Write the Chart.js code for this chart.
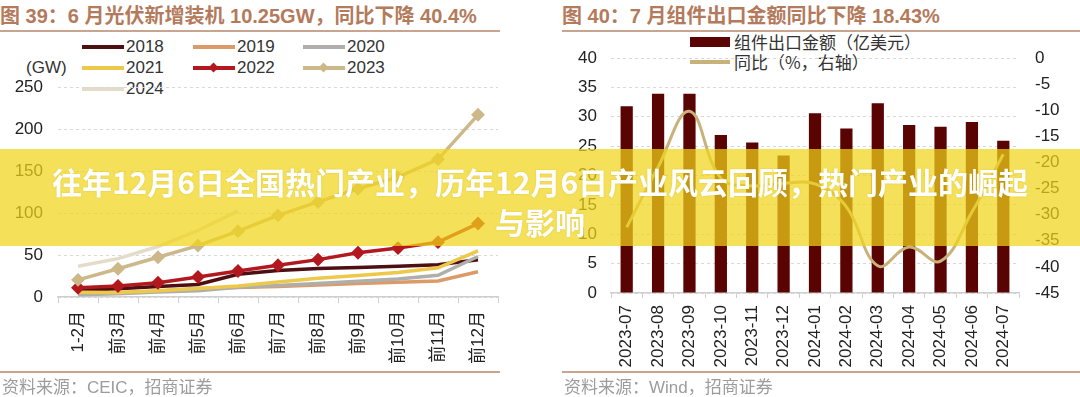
<!DOCTYPE html>
<html>
<head>
<meta charset="utf-8">
<script src="https://cdn.jsdelivr.net/npm/chart.js@4.4.1/dist/chart.umd.min.js"></script>
<style>
  html, body { margin: 0; padding: 0; background: #fff; }
  #wrap { position: relative; width: 1080px; height: 397px; overflow: hidden; background: #fff;
          font-family: "Liberation Sans", "Noto Sans CJK SC", sans-serif; }
  .abs { position: absolute; }
  .title { color: #b47a5c; font-weight: bold; font-size: 20px; line-height: 24px; top: 4px; white-space: nowrap; }
  .rule { height: 2px; background: #c9a58f; }
  .foot { color: #9c9c9c; font-size: 17px; line-height: 22px; top: 377px; white-space: nowrap; }
  .leg { font-size: 17px; line-height: 20px; color: #333; white-space: nowrap; }
  .sw { position: absolute; height: 4px; }
  .dia { position: absolute; width: 7px; height: 7px; transform: rotate(45deg); }
  #banner { left: 0; top: 149px; width: 1080px; height: 97px; background: rgba(241, 214, 25, 0.72);
            color: #fff; font-family: "Noto Sans CJK SC", sans-serif; font-weight: bold; font-size: 30px;
            line-height: 40px; text-align: center; padding-top: 12px; box-sizing: border-box;
            text-shadow: 0 0 2px rgba(150, 120, 0, 0.25); }
</style>
</head>
<body>
<div id="wrap">
  <div class="abs title" style="left:0">图 39：6 月光伏新增装机 10.25GW，同比下降 40.4%</div>
  <div class="abs rule" style="left:0; top:30px; width:500px"></div>
  <div class="abs title" style="left:562px">图 40：7 月组件出口金额同比下降 18.43%</div>
  <div class="abs rule" style="left:562px; top:30px; width:518px"></div>

  <div id="legLeft"></div>
  <div class="abs leg" style="left:26px; top:58px">(GW)</div>
  <div id="legRight"></div>

  <canvas id="pvChart" class="abs" width="540" height="372" style="left:0; top:0"></canvas>
  <canvas id="exportChart" class="abs" width="540" height="372" style="left:540px; top:0"></canvas>

  <div class="abs rule" style="left:0; top:371px; width:500px; height:1.5px"></div>
  <div class="abs foot" style="left:2px">资料来源：CEIC，招商证券</div>
  <div class="abs rule" style="left:562px; top:371px; width:518px; height:1.5px"></div>
  <div class="abs foot" style="left:564px">资料来源：Wind，招商证券</div>

  <div id="banner" class="abs">往年12月6日全国热门产业，历年12月6日产业风云回顾，热门产业的崛起<br>与影响</div>
</div>

<script>
// left chart: cumulative PV installs (GW)
const pvMonths = ["1-2月", "前3月", "前4月", "前5月", "前6月", "前7月", "前8月", "前9月", "前10月", "前11月", "前12月"];
const pvYears = ["2018", "2019", "2020", "2021", "2022", "2023", "2024"];
const pv2018 = [7.7, 9.7, 12.5, 15.0, 27.0, 31.5, 34.0, 35.0, 36.5, 38.5, 44.3];
const pv2019 = [4.7, 5.2, 7.2, 10.0, 11.4, 12.5, 14.3, 16.0, 17.5, 19.0, 30.1];
const pv2020 = [2.7, 4.0, 6.0, 7.3, 11.5, 13.8, 16.0, 18.7, 21.3, 25.9, 48.2];
const pv2021 = [5.6, 5.3, 7.5, 10.2, 13.0, 17.8, 22.3, 25.6, 29.3, 34.8, 54.9];
const pv2022 = [10.9, 13.2, 16.9, 23.7, 30.9, 37.7, 44.5, 52.6, 58.2, 65.3, 87.4];
const pv2023 = [20.4, 33.7, 47.3, 61.2, 78.4, 97.2, 113.2, 128.9, 142.6, 163.9, 216.9];
const pv2024 = [36.7, 45.7, 60.1, 79.2, 102.5, null, null, null, null, null, null];
const pvTicks = [0, 50, 100, 150, 200, 250];

// right chart: module exports
const exportMonths = ["2023-07", "2023-08", "2023-09", "2023-10", "2023-11", "2023-12", "2024-01",
  "2024-02", "2024-03", "2024-04", "2024-05", "2024-06", "2024-07"];
const exportValues = [31.8, 33.9, 33.9, 26.9, 25.6, 23.4, 30.6, 28.0, 32.3, 28.6, 28.3, 29.1, 25.9];
const exportYoy = [-32.4, -20.9, -10.2, -23.0, -24.5, -24.0, -24.1, -28.5, -39.8, -36.2, -38.9, -29.5, -18.43];
const exportLabels = ["组件出口金额（亿美元）", "同比（%，右轴）"];

const pvSeries = [pv2018, pv2019, pv2020, pv2021, pv2022, pv2023, pv2024];
const pvColors = ["#4d0f12", "#dc9a68", "#b0aeab", "#ecc94b", "#b3181e", "#cdb88a", "#e4dcc8"];
const pvMarkers = [false, false, false, false, true, true, false];
const barColor = "#5a0303";
const yoyColor = "#c8b27a";

const tickFont = { family: "'Liberation Sans', 'Noto Sans CJK SC', sans-serif", size: 17 };
const gridColor = "#d8d8d8";
const axisColor = "#cfcfcf";

// html legend for the left chart, 3 per row
const legLeft = document.getElementById("legLeft");
pvYears.forEach((name, i) => {
  const col = i % 3, row = Math.floor(i / 3);
  const x = [82, 193, 303][col];
  const y = [47, 68, 89][row];
  let html = '<div class="sw" style="left:' + x + 'px;top:' + (y - 2) + 'px;width:42px;background:' + pvColors[i] + '"></div>';
  if (pvMarkers[i]) {
    html += '<div class="dia" style="left:' + (x + 17) + 'px;top:' + (y - 4) + 'px;background:' + pvColors[i] + '"></div>';
  }
  html += '<div class="abs leg" style="left:' + (x + 44) + 'px;top:' + (y - 10) + 'px">' + name + '</div>';
  legLeft.insertAdjacentHTML("beforeend", html);
});

// html legend for the right chart
document.getElementById("legRight").innerHTML =
  '<div class="sw" style="left:690px;top:37px;width:40px;height:10px;background:' + barColor + '"></div>' +
  '<div class="abs leg" style="left:734px;top:32px;font-family:\'Noto Sans CJK SC\'">' + exportLabels[0] + '</div>' +
  '<div class="sw" style="left:690px;top:60px;width:40px;background:' + yoyColor + '"></div>' +
  '<div class="abs leg" style="left:734px;top:52px;font-family:\'Noto Sans CJK SC\'">' + exportLabels[1] + '</div>';

new Chart(document.getElementById("pvChart"), {
  type: "line",
  data: {
    labels: pvMonths,
    datasets: pvSeries.map((data, i) => ({
      label: pvYears[i],
      data,
      borderColor: pvColors[i],
      backgroundColor: pvColors[i],
      borderWidth: 3.5,
      pointStyle: "rectRot",
      pointRadius: pvMarkers[i] ? 4.5 : 0,
      tension: 0,
      spanGaps: false,
      order: pvSeries.length - i,
    })),
  },
  options: {
    responsive: false,
    animation: false,
    layout: { padding: { top: 87, left: 0, right: 42, bottom: 0 } },
    plugins: { legend: { display: false }, tooltip: { enabled: false } },
    scales: {
      x: {
        offset: true,
        grid: { offset: true, drawOnChartArea: false, drawTicks: true, tickLength: 6, color: axisColor },
        border: { display: true, color: axisColor, width: 1.5 },
        ticks: { color: "#222", font: tickFont, maxRotation: 90, minRotation: 90, padding: 8, autoSkip: false },
        afterFit: (scale) => { scale.height = 75; },
      },
      y: {
        min: 0,
        max: 250,
        afterBuildTicks: (scale) => { scale.ticks = pvTicks.map((v) => ({ value: v })); },
        grid: { color: gridColor, drawTicks: false },
        border: { display: false, dash: [3, 3] },
        ticks: { color: "#222", font: tickFont, padding: 15 },
        afterFit: (scale) => { scale.width = 58; },
      },
    },
  },
});

new Chart(document.getElementById("exportChart"), {
  data: {
    labels: exportMonths,
    datasets: [
      {
        type: "line",
        label: exportLabels[1],
        data: exportYoy,
        yAxisID: "y1",
        borderColor: yoyColor,
        borderWidth: 3,
        pointRadius: 0,
        tension: 0.4,
        order: 1,
      },
      {
        type: "bar",
        label: exportLabels[0],
        data: exportValues,
        yAxisID: "y",
        backgroundColor: barColor,
        barPercentage: 0.39,
        categoryPercentage: 1,
        order: 2,
      },
    ],
  },
  options: {
    responsive: false,
    animation: false,
    layout: { padding: { top: 58, left: 0, right: 0, bottom: 0 } },
    plugins: { legend: { display: false }, tooltip: { enabled: false } },
    scales: {
      x: {
        offset: true,
        grid: { offset: true, drawOnChartArea: false, drawTicks: true, tickLength: 5, color: axisColor },
        border: { display: true, color: axisColor, width: 1.5 },
        ticks: { color: "#222", font: tickFont, maxRotation: 90, minRotation: 90, padding: 7, autoSkip: false },
        afterFit: (scale) => { scale.height = 79; },
      },
      y: {
        position: "left",
        min: 0,
        max: 40,
        ticks: { stepSize: 5, color: "#222", font: tickFont, padding: 14 },
        grid: { color: gridColor, drawTicks: false },
        border: { display: false, dash: [3, 3] },
        afterFit: (scale) => { scale.width = 71; },
      },
      y1: {
        position: "right",
        min: -45,
        max: 0,
        ticks: { stepSize: 5, color: "#222", font: tickFont, padding: 16 },
        grid: { display: false, drawTicks: false },
        border: { display: false },
        afterFit: (scale) => { scale.width = 61; },
      },
    },
  },
});
</script>
</body>
</html>
